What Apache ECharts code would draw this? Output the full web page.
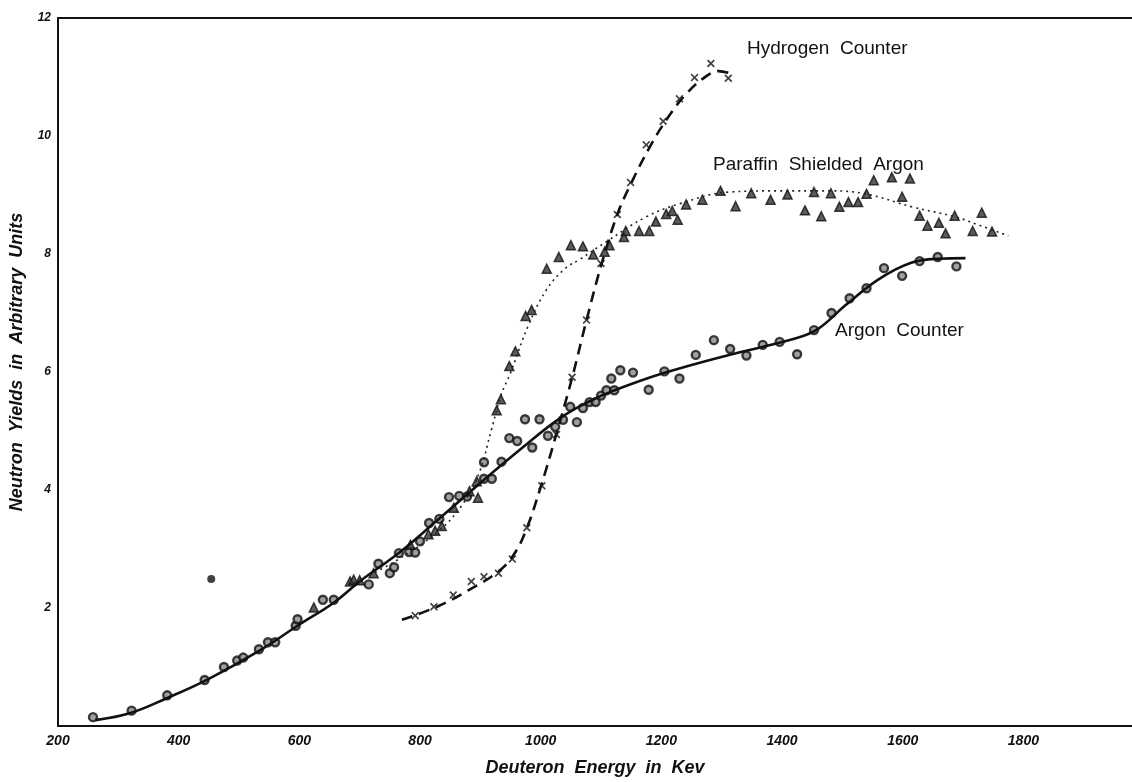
<!DOCTYPE html>
<html lang="en">
<head>
    <meta charset="UTF-8">
    <title>Neutron Yields</title>
    <script src="https://cdn.jsdelivr.net/npm/echarts@6/dist/echarts.min.js"></script>
    <style>
        html, body { margin: 0; padding: 0; background: #fff; }
    </style>
</head>
<body>
    <div id="box" style="width: 1132px; height: 782px;"></div>
    <script>
        // measured points [energy keV, yield]
        var argonPts = [[258,0.15],[322,0.26],[381,0.52],[443,0.78],[475,1.0],[497,1.11],[507,1.16],[533,1.3],[548,1.42],[560,1.42],
            [594,1.7],[597,1.81],[639,2.14],[657,2.14],[715,2.4],[731,2.75],[750,2.59],[757,2.69],[765,2.93],[782,2.95],[792,2.94],
            [800,3.13],[815,3.44],[832,3.51],[848,3.88],[865,3.9],[878,3.89],[906,4.19],[919,4.19],[906,4.47],[935,4.48],[948,4.88],
            [961,4.83],[974,5.2],[998,5.2],[986,4.72],[1012,4.92],[1024,5.07],[1037,5.19],[1049,5.41],[1060,5.15],[1070,5.39],
            [1081,5.49],[1091,5.49],[1100,5.6],[1109,5.69],[1122,5.69],[1117,5.89],[1132,6.03],[1153,5.99],[1179,5.7],[1205,6.01],
            [1230,5.89],[1257,6.29],[1287,6.54],[1314,6.39],[1341,6.28],[1368,6.46],[1396,6.51],[1425,6.3],[1453,6.71],[1482,7.0],
            [1512,7.25],[1540,7.42],[1569,7.76],[1599,7.63],[1628,7.88],[1658,7.95],[1689,7.79]];
        var strayPts = [[454,2.49]];
        var paraffinPts = [[624,2.01],[684,2.45],[690,2.48],[700,2.47],[723,2.59],[784,3.07],[814,3.25],[825,3.31],[836,3.39],
            [856,3.7],[882,3.98],[896,3.87],[894,4.15],[927,5.35],[934,5.54],[948,6.1],[958,6.35],[975,6.95],[985,7.05],[1010,7.75],
            [1030,7.95],[1050,8.15],[1070,8.13],[1087,7.99],[1106,8.04],[1114,8.15],[1138,8.29],[1141,8.39],[1163,8.39],[1180,8.39],
            [1191,8.55],[1208,8.68],[1218,8.73],[1227,8.58],[1241,8.84],[1268,8.92],[1298,9.07],[1323,8.81],[1349,9.03],[1381,8.92],
            [1409,9.01],[1438,8.74],[1453,9.05],[1465,8.64],[1481,9.03],[1495,8.8],[1510,8.88],[1526,8.88],[1540,9.02],[1552,9.25],
            [1582,9.3],[1612,9.28],[1599,8.97],[1628,8.65],[1641,8.48],[1660,8.53],[1671,8.35],[1686,8.65],[1716,8.39],[1731,8.7],
            [1748,8.38]];
        var hydrogenPts = [[792,1.87],[823,2.02],[855,2.22],[885,2.45],[906,2.53],[930,2.59],[953,2.83],[977,3.36],[1002,4.07],
            [1026,4.94],[1052,5.91],[1076,6.88],[1100,7.84],[1127,8.67],[1149,9.21],[1175,9.85],[1203,10.25],[1230,10.63],
            [1255,10.99],[1282,11.23],[1311,10.98]];

        // hand drawn curves
        var argonCurve = [[262,0.1],[320,0.22],[380,0.47],[450,0.8],[536,1.29],[600,1.72],[657,2.09],[700,2.45],[767,2.95],
            [830,3.5],[900,4.12],[970,4.72],[1031,5.21],[1080,5.5],[1120,5.68],[1200,5.97],[1312,6.29],[1423,6.57],[1461,6.74],
            [1505,7.13],[1560,7.57],[1614,7.85],[1660,7.92],[1704,7.93]];
        var paraffinCurve = [[690,2.42],[760,2.8],[830,3.3],[870,3.75],[898,4.29],[918,5.01],[935,5.63],[949,5.96],[980,6.8],
            [1010,7.4],[1040,7.75],[1065,7.91],[1109,8.21],[1175,8.63],[1230,8.85],[1312,9.05],[1395,9.07],[1478,9.07],[1538,9.02],
            [1615,8.8],[1687,8.63],[1726,8.49],[1775,8.31]];
        var hydrogenCurve = [[770,1.8],[830,2.03],[880,2.3],[930,2.62],[955,2.9],[975,3.3],[1000,4.05],[1026,4.95],[1052,5.9],
            [1076,6.88],[1100,7.8],[1127,8.67],[1150,9.2],[1180,9.8],[1210,10.3],[1240,10.7],[1270,10.98],[1295,11.1],[1311,11.07]];

        var curveLabels = ['Hydrogen  Counter', 'Paraffin  Shielded  Argon', 'Argon  Counter'];

        var FONT = '"Liberation Sans", Arial, sans-serif';
        var myEcharts = echarts.init(document.getElementById('box'));

        var tickStyle = { fontFamily: FONT, fontWeight: 'bold', fontStyle: 'italic', color: '#111' };
        var titleStyle = { fontFamily: FONT, fontSize: 18, fontWeight: 'bold', fontStyle: 'italic', color: '#111' };

        var option = {
            backgroundColor: '#fff',
            animation: false,
            grid: { left: 57, right: 0, top: 18, bottom: 45 },
            xAxis: [{
                type: 'value', min: 200, max: 1980, interval: 200,
                name: 'Deuteron  Energy  in  Kev', nameLocation: 'middle', nameGap: 33,
                nameTextStyle: titleStyle,
                axisLine: { lineStyle: { color: '#111', width: 2 } },
                axisTick: { show: false },
                splitLine: { show: false },
                axisLabel: Object.assign({ showMaxLabel: false, margin: 8, fontSize: 14,
                    formatter: function (v) { return String(v); } }, tickStyle)
            }, {
                // top border of the frame
                type: 'value', position: 'top', min: 200, max: 1980,
                axisLine: { show: true, lineStyle: { color: '#111', width: 2 } },
                axisTick: { show: false }, axisLabel: { show: false }, splitLine: { show: false }
            }],
            yAxis: {
                type: 'value', min: 0, max: 12, interval: 2,
                name: 'Neutron  Yields  in  Arbitrary  Units', nameLocation: 'middle', nameGap: 32,
                nameTextStyle: Object.assign({ padding: [0, 0, 0, 20] }, titleStyle),
                axisLine: { show: true, lineStyle: { color: '#111', width: 2 } },
                axisTick: { show: false },
                splitLine: { show: false },
                axisLabel: Object.assign({ showMinLabel: false, margin: 7, fontSize: 12 }, tickStyle)
            },
            series: [
                { type: 'line', data: argonCurve, smooth: 0.4, symbol: 'none',
                    lineStyle: { color: '#111', width: 2.6 } },
                { type: 'line', data: paraffinCurve, smooth: 0.4, symbol: 'none',
                    lineStyle: { color: '#222', width: 1.6, type: [2, 4] } },
                { type: 'line', data: hydrogenCurve, smooth: 0.4, symbol: 'none',
                    lineStyle: { color: '#111', width: 2.6, type: [11, 7] } },
                { type: 'scatter', data: argonPts, symbol: 'circle', symbolSize: 8,
                    itemStyle: { color: '#888', borderColor: '#111', borderWidth: 2.4 } },
                { type: 'scatter', data: strayPts, symbol: 'circle', symbolSize: 8,
                    itemStyle: { color: '#111' } },
                { type: 'scatter', data: paraffinPts, symbol: 'triangle', symbolSize: 9,
                    itemStyle: { color: '#333', borderColor: '#111', borderWidth: 1.5 } },
                { type: 'scatter', data: hydrogenPts, symbolSize: 8,
                    symbol: 'path://M0,1.5L1.5,0L5,3.5L8.5,0L10,1.5L6.5,5L10,8.5L8.5,10L5,6.5L1.5,10L0,8.5L3.5,5Z',
                    itemStyle: { color: '#111' } }
            ],
            graphic: [
                { type: 'text', left: 747, top: 39, style: { text: curveLabels[0], font: '500 19px ' + FONT, fill: '#111' } },
                { type: 'text', left: 713, top: 155, style: { text: curveLabels[1], font: '500 19px ' + FONT, fill: '#111' } },
                { type: 'text', left: 835, top: 321, style: { text: curveLabels[2], font: '500 19px ' + FONT, fill: '#111' } }
            ]
        };
        myEcharts.setOption(option);
    </script>
</body>
</html>
